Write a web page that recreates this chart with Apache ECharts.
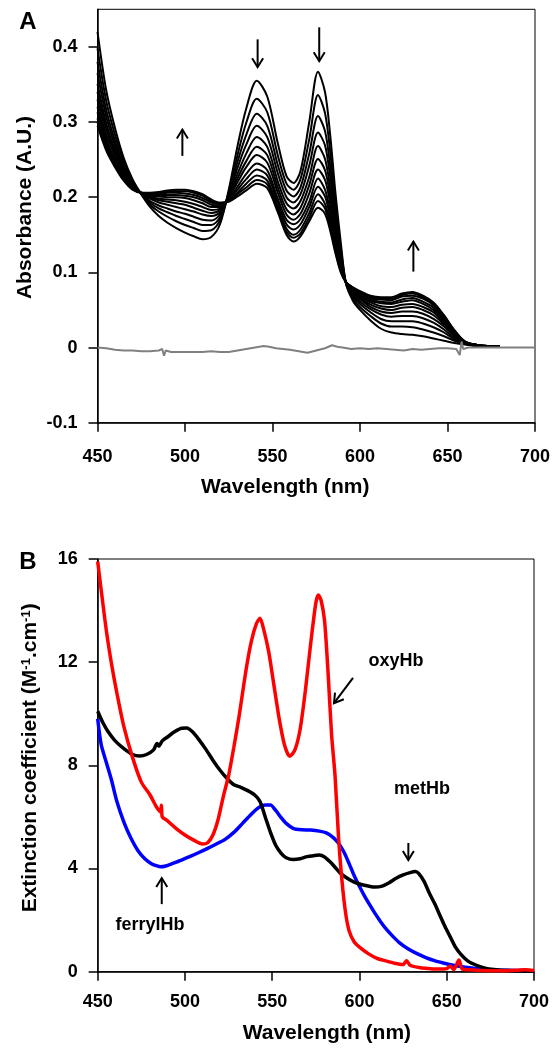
<!DOCTYPE html>
<html>
<head>
<meta charset="utf-8">
<script src="https://cdn.jsdelivr.net/npm/echarts@6/dist/echarts.min.js"></script>
<style>html,body{margin:0;padding:0;background:#fff}#c{width:558px;height:1050px}</style>
</head>
<body>
<div id="c"></div>
<script>
// ---------- Panel A: spectral time series ----------
const wlA = [450,455,460,465,470,475,480,485,490,495,500,505,510,515,520,525,530,535,541,547,553,558,562,566,571,576,580,583,586,589,592,596,600,606,612,618,624,630,636,642,648,654,660,668,680];
const spec01 = [0.420,0.342,0.292,0.252,0.224,0.204,0.187,0.175,0.166,0.159,0.153,0.148,0.144,0.147,0.164,0.210,0.268,0.318,0.355,0.334,0.272,0.228,0.219,0.235,0.300,0.367,0.340,0.282,0.205,0.140,0.085,0.062,0.050,0.036,0.025,0.020,0.018,0.017,0.015,0.012,0.009,0.006,0.004,0.002,0.001];
const spec02 = [0.398,0.328,0.283,0.247,0.222,0.204,0.190,0.181,0.174,0.168,0.163,0.159,0.155,0.156,0.169,0.207,0.256,0.299,0.331,0.313,0.256,0.218,0.210,0.224,0.277,0.336,0.312,0.260,0.191,0.133,0.085,0.065,0.054,0.042,0.032,0.028,0.028,0.027,0.024,0.020,0.015,0.009,0.005,0.002,0.001];
const spec03 = [0.380,0.316,0.275,0.242,0.220,0.205,0.193,0.185,0.180,0.175,0.171,0.167,0.163,0.163,0.173,0.205,0.247,0.283,0.311,0.295,0.243,0.209,0.201,0.213,0.258,0.308,0.288,0.241,0.179,0.127,0.086,0.068,0.058,0.047,0.038,0.035,0.035,0.035,0.032,0.027,0.020,0.011,0.005,0.002,0.001];
const spec04 = [0.365,0.307,0.269,0.239,0.218,0.205,0.195,0.189,0.185,0.181,0.178,0.174,0.170,0.169,0.177,0.203,0.239,0.270,0.295,0.280,0.232,0.200,0.193,0.204,0.242,0.286,0.269,0.226,0.170,0.122,0.086,0.070,0.061,0.051,0.044,0.041,0.042,0.042,0.039,0.033,0.024,0.013,0.006,0.002,0.001];
const spec05 = [0.351,0.298,0.263,0.236,0.216,0.205,0.198,0.193,0.190,0.187,0.184,0.181,0.177,0.175,0.180,0.201,0.231,0.258,0.280,0.267,0.221,0.192,0.185,0.195,0.227,0.268,0.251,0.212,0.161,0.118,0.086,0.072,0.064,0.054,0.048,0.046,0.048,0.048,0.045,0.038,0.028,0.015,0.006,0.002,0.001];
const spec06 = [0.340,0.291,0.259,0.233,0.215,0.205,0.199,0.196,0.194,0.192,0.190,0.186,0.182,0.179,0.183,0.200,0.225,0.248,0.267,0.256,0.213,0.184,0.177,0.186,0.216,0.251,0.236,0.201,0.154,0.114,0.086,0.074,0.066,0.057,0.052,0.050,0.053,0.054,0.050,0.043,0.031,0.017,0.007,0.003,0.001];
const spec07 = [0.330,0.284,0.255,0.230,0.214,0.205,0.201,0.198,0.197,0.196,0.194,0.191,0.187,0.183,0.185,0.199,0.220,0.240,0.256,0.246,0.206,0.177,0.170,0.178,0.205,0.237,0.223,0.191,0.147,0.111,0.086,0.075,0.068,0.060,0.055,0.054,0.057,0.058,0.054,0.047,0.033,0.018,0.007,0.003,0.001];
const spec08 = [0.320,0.278,0.250,0.228,0.213,0.206,0.202,0.201,0.200,0.200,0.199,0.196,0.192,0.187,0.187,0.197,0.214,0.231,0.245,0.236,0.198,0.170,0.164,0.171,0.194,0.225,0.210,0.180,0.141,0.108,0.087,0.076,0.070,0.062,0.059,0.058,0.061,0.063,0.058,0.050,0.036,0.020,0.007,0.003,0.001];
const spec09 = [0.313,0.273,0.247,0.226,0.212,0.206,0.203,0.203,0.203,0.203,0.202,0.200,0.196,0.190,0.189,0.196,0.210,0.224,0.237,0.229,0.193,0.164,0.157,0.164,0.187,0.214,0.201,0.173,0.136,0.106,0.087,0.078,0.072,0.064,0.061,0.060,0.064,0.066,0.061,0.053,0.038,0.021,0.007,0.003,0.001];
const spec10 = [0.305,0.268,0.244,0.224,0.211,0.206,0.205,0.204,0.206,0.206,0.205,0.203,0.199,0.193,0.191,0.195,0.206,0.218,0.229,0.222,0.187,0.158,0.150,0.157,0.179,0.204,0.191,0.165,0.131,0.103,0.087,0.079,0.073,0.066,0.064,0.063,0.068,0.069,0.065,0.056,0.040,0.022,0.008,0.003,0.001];
const spec11 = [0.300,0.265,0.242,0.223,0.211,0.206,0.205,0.206,0.207,0.208,0.208,0.206,0.202,0.195,0.192,0.195,0.204,0.213,0.223,0.217,0.184,0.154,0.146,0.152,0.173,0.195,0.185,0.160,0.128,0.102,0.087,0.079,0.074,0.068,0.065,0.065,0.070,0.072,0.067,0.058,0.042,0.022,0.008,0.003,0.001];
const spec12 = [0.295,0.262,0.240,0.222,0.210,0.206,0.206,0.207,0.209,0.210,0.210,0.208,0.204,0.197,0.193,0.194,0.201,0.209,0.218,0.212,0.180,0.150,0.141,0.148,0.168,0.186,0.178,0.155,0.125,0.100,0.087,0.080,0.075,0.069,0.067,0.067,0.072,0.074,0.069,0.060,0.043,0.023,0.008,0.003,0.001];

const wlBase = [450,455,460,465,470,475,480,485,487,488,489,492,500,510,515,520,525,530,535,540,545,548,552,560,565,570,575,580,584,587,590,595,600,605,610,615,620,625,630,635,640,645,650,655,657,658,659,662,670,680,690,700];
const baseline = [0,-0.001,-0.003,-0.004,-0.004,-0.005,-0.005,-0.004,-0.002,-0.011,-0.004,-0.006,-0.006,-0.006,-0.005,-0.006,-0.006,-0.004,-0.002,0,0.002,0.001,-0.001,-0.003,-0.005,-0.007,-0.004,-0.001,0.003,0.001,0,-0.002,-0.001,-0.002,-0.001,-0.002,-0.003,-0.004,-0.002,-0.003,-0.002,-0.001,-0.001,-0.002,-0.010,0.008,-0.002,0,0,0,0,0];

// ---------- Panel B: extinction spectra ----------
const wlOxy = [450,452,455,458,461,465,470,475,480,484,486,486.5,487,490,495,500,505,510,513,516,519,522,525,528,531,535,538,541,543,545,548,551,554,557,560,563,566,569,572,575,576.5,578,580,582,584,586,588,590,592,594,597,600,605,610,615,620,625,627,629,635,640,645,650,652,654,657,659,665,670,680,690,695,700];
const oxyHb = [15.9,14.8,13.2,11.9,10.8,9.5,8.3,7.35,6.85,6.35,6.2,6.45,6.0,5.85,5.55,5.3,5.1,4.95,5.0,5.3,5.9,6.8,7.6,8.7,9.9,11.7,12.8,13.5,13.7,13.3,12.4,11.1,9.8,8.8,8.35,8.6,9.4,10.9,12.7,14.3,14.6,14.4,13.6,11.6,9.2,7.6,5.2,3.5,2.3,1.6,1.15,0.95,0.7,0.52,0.42,0.33,0.28,0.42,0.25,0.15,0.12,0.1,0.12,0.22,0.08,0.45,0.1,0.07,0.05,0.04,0.06,0.08,0.05];
const wlMet = [450,453,456,460,465,470,474,478,482,484,485,487,490,494,498,501,504,508,512,516,520,524,528,532,536,540,543,546,549,552,555,558,562,566,570,574,577,580,583,586,589,593,597,601,605,609,613,617,621,625,629,632,634,637,640,643,646,649,652,655,658,662,667,672,677,685,700];
const metHb = [10.1,9.65,9.3,8.95,8.65,8.42,8.36,8.42,8.6,8.85,8.75,8.95,9.1,9.3,9.44,9.45,9.32,9.0,8.62,8.2,7.82,7.5,7.25,7.15,7.02,6.85,6.6,6.0,5.4,4.9,4.6,4.42,4.35,4.38,4.46,4.5,4.52,4.45,4.27,4.05,3.82,3.62,3.47,3.38,3.32,3.28,3.32,3.45,3.62,3.75,3.84,3.88,3.8,3.5,3.05,2.65,2.2,1.75,1.35,0.95,0.68,0.42,0.25,0.14,0.09,0.05,0.03];
const wlFer = [450,452,455,458,461,465,469,473,477,481,484,486,489,493,498,503,508,513,518,523,528,533,538,542,546,549,552,555,558,562,567,572,577,581,585,588,591,594,597,600,603,606,609,612,615,619,623,628,633,638,643,648,653,658,663,668,673,680,690,700];
const ferrylHb = [9.8,8.8,8.1,7.4,6.6,5.8,5.18,4.7,4.38,4.18,4.1,4.07,4.1,4.2,4.33,4.47,4.62,4.78,4.95,5.13,5.4,5.75,6.1,6.35,6.46,6.46,6.25,5.98,5.75,5.56,5.5,5.49,5.45,5.38,5.2,4.98,4.65,4.2,3.72,3.3,2.92,2.58,2.25,1.95,1.68,1.38,1.12,0.88,0.7,0.55,0.43,0.34,0.26,0.2,0.15,0.11,0.08,0.06,0.05,0.04];

// ---------- Ticks & annotations (data coordinates) ----------
const yTicksA = [-0.1, 0, 0.1, 0.2, 0.3, 0.4];
const yTicksB = [0, 4, 8, 12, 16];
const arrowsA = [[[498.5,0.255],[498.5,0.290]], [[541.5,0.410],[541.5,0.373]], [[576.7,0.426],[576.7,0.381]], [[630.5,0.101],[630.5,0.141]]];
const arrowsB = [[[596.3,11.39],[585.4,10.41]], [[628,4.99],[628,4.33]], [[486.7,2.62],[486.7,3.63]]];
const labelsB = [['oxyHb',620.9,12.05],['metHb',635.8,7.08],['ferrylHb',480,1.81]];

const FONT = "'Liberation Sans', Arial, Helvetica, sans-serif";
const zip = (xs, ys) => xs.map((x, i) => [x, ys[i]]);
const specs = [spec01,spec02,spec03,spec04,spec05,spec06,spec07,spec08,spec09,spec10,spec11,spec12];

const chart = echarts.init(document.getElementById('c'), null, {renderer: 'canvas'});

function xAxisDef(gridIndex, gap, pad, margin) {
  return {
    type: 'value', gridIndex, min: 450, max: 700, interval: 50,
    name: 'Wavelength (nm)', nameLocation: 'middle', nameGap: gap,
    nameTextStyle: {fontSize: 21, fontWeight: 'bold', color: '#000', fontFamily: FONT, padding: pad},
    axisLine: {show: true, onZero: false, lineStyle: {color: '#000', width: 1.5}},
    axisTick: {show: true, inside: false, length: 9, lineStyle: {color: '#000', width: 1.5}},
    axisLabel: {fontSize: 18, fontWeight: 'bold', color: '#000', fontFamily: FONT, margin},
    splitLine: {show: false}
  };
}
function yAxisDef(gridIndex, min, max, interval, ticks, name, gap, pad, rich) {
  const ts = {fontSize: 21, fontWeight: 'bold', color: '#000', fontFamily: FONT, padding: pad};
  if (rich) ts.rich = rich;
  return {
    type: 'value', gridIndex, min, max, interval,
    name, nameLocation: 'middle', nameGap: gap, nameRotate: 90,
    nameTextStyle: ts,
    axisLine: {show: true, onZero: false, lineStyle: {color: '#000', width: 1.5}},
    axisTick: {show: true, inside: false, length: 9, customValues: ticks, lineStyle: {color: '#000', width: 1.5}},
    axisLabel: {fontSize: 18, fontWeight: 'bold', color: '#000', fontFamily: FONT, margin: 20, customValues: ticks},
    splitLine: {show: false}
  };
}

const series = [];
specs.forEach((s, i) => {
  series.push({
    type: 'line', xAxisIndex: 0, yAxisIndex: 0, data: zip(wlA, s),
    showSymbol: false, smooth: 0.3, lineStyle: {color: '#000', width: 2}, z: 2
  });
});
series.push({type: 'line', xAxisIndex: 0, yAxisIndex: 0, data: zip(wlBase, baseline), showSymbol: false, lineStyle: {color: '#808080', width: 2}, z: 3});
series.push({type: 'line', xAxisIndex: 1, yAxisIndex: 1, data: zip(wlFer, ferrylHb), showSymbol: false, smooth: 0.25, lineStyle: {color: '#0000ff', width: 3.5}, z: 2});
series.push({type: 'line', xAxisIndex: 1, yAxisIndex: 1, data: zip(wlMet, metHb), showSymbol: false, smooth: 0.25, lineStyle: {color: '#000', width: 3.5}, z: 3});
series.push({type: 'line', xAxisIndex: 1, yAxisIndex: 1, data: zip(wlOxy, oxyHb), showSymbol: false, smooth: 0.25, lineStyle: {color: '#ff0000', width: 3.5}, z: 4});

chart.setOption({
  animation: false,
  backgroundColor: '#fff',
  grid: [
    {left: 97.5, top: 9.3, width: 437.5, height: 413.4, show: true, borderColor: '#000', borderWidth: 1},
    {left: 97.7, top: 559, width: 436.3, height: 412.7, show: true, borderColor: '#000', borderWidth: 1}
  ],
  xAxis: [xAxisDef(0, 54, [0, 62, 0, 0], 25), xAxisDef(1, 51, [0, 0, 0, 22], 21)],
  yAxis: [
    yAxisDef(0, -0.1, 0.45, 0.1, yTicksA, 'Absorbance (A.U.)', 59, [0, 0, 0, 17]),
    yAxisDef(1, 0, 16, 4, yTicksB, 'Extinction coefficient (M{sup|-1}.cm{sup|-1})', 57, [0, 0, 0, 15],
      {sup: {fontSize: 13, fontWeight: 'bold', color: '#000', fontFamily: FONT, verticalAlign: 'top'}})
  ],
  series
});

function arrowEls(gridIndex, from, to) {
  const p0 = chart.convertToPixel({gridIndex}, from);
  const p1 = chart.convertToPixel({gridIndex}, to);
  const dx = p1[0] - p0[0], dy = p1[1] - p0[1];
  const len = Math.hypot(dx, dy), ux = dx / len, uy = dy / len;
  const hl = 9, hw = 5.5;
  const a = [p1[0] - ux * hl - uy * hw, p1[1] - uy * hl + ux * hw];
  const b = [p1[0] - ux * hl + uy * hw, p1[1] - uy * hl - ux * hw];
  return [
    {type: 'line', z: 100, shape: {x1: p0[0], y1: p0[1], x2: p1[0], y2: p1[1]}, style: {stroke: '#000', lineWidth: 2}},
    {type: 'polyline', z: 100, shape: {points: [a, p1, b]}, style: {stroke: '#000', fill: null, lineWidth: 2}}
  ];
}
const g = [];
arrowsA.forEach(a => g.push(...arrowEls(0, a[0], a[1])));
arrowsB.forEach(a => g.push(...arrowEls(1, a[0], a[1])));
labelsB.forEach(l => {
  const p = chart.convertToPixel({gridIndex: 1}, [l[1], l[2]]);
  g.push({type: 'text', z: 100, style: {text: l[0], x: p[0], y: p[1], font: 'bold 18px ' + FONT, fill: '#000', align: 'center', verticalAlign: 'middle'}});
});
g.push({type: 'text', z: 100, style: {text: 'A', x: 28, y: 22, font: 'bold 24px ' + FONT, fill: '#000', align: 'center', verticalAlign: 'middle'}});
g.push({type: 'text', z: 100, style: {text: 'B', x: 28, y: 562, font: 'bold 24px ' + FONT, fill: '#000', align: 'center', verticalAlign: 'middle'}});
chart.setOption({graphic: g});
</script>
</body>
</html>
